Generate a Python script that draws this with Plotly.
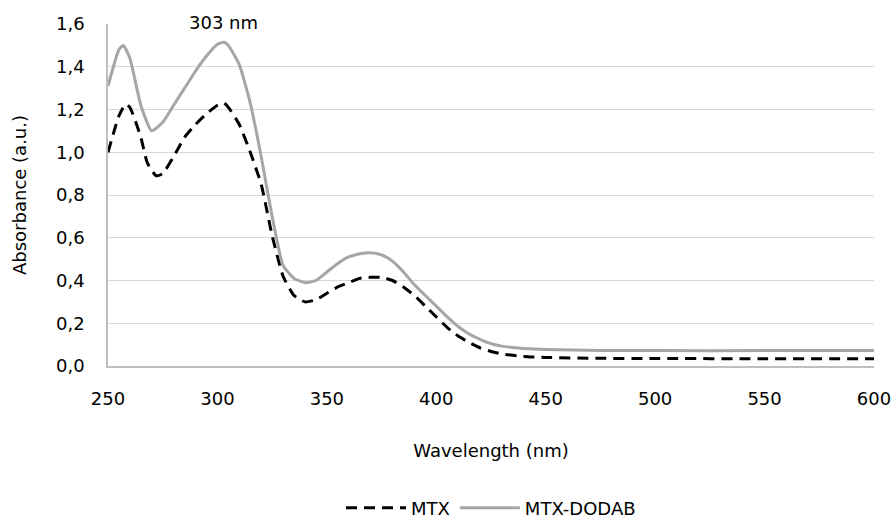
import plotly.graph_objects as go

wavelength_dodab = [250, 255, 257, 260, 265, 270, 275, 280, 285, 290, 295, 300, 303, 305, 310, 315, 320, 325, 330,
                    335, 340, 345, 350, 355, 360, 365, 370, 375, 380, 385, 390, 395, 400, 405, 410, 415, 420, 425,
                    430, 440, 450, 475, 500, 550, 600]
abs_dodab = [1.31, 1.48, 1.50, 1.44, 1.22, 1.10, 1.14, 1.22, 1.30, 1.38, 1.45, 1.505, 1.515, 1.50, 1.41, 1.23,
             0.98, 0.70, 0.47, 0.41, 0.39, 0.40, 0.44, 0.48, 0.51, 0.525, 0.53, 0.52, 0.49, 0.44, 0.38, 0.33, 0.28,
             0.23, 0.185, 0.15, 0.125, 0.105, 0.093, 0.082, 0.077, 0.073, 0.072, 0.072, 0.073]

wavelength_mtx = [250, 255, 258, 260, 265, 268, 272, 275, 280, 285, 290, 295, 300, 303, 305, 310, 315, 320, 325, 330,
                  335, 340, 345, 350, 355, 360, 365, 370, 375, 380, 385, 390, 395, 400, 405, 410, 415, 420, 425, 430,
                  440, 450, 475, 500, 550, 600]
abs_mtx = [1.00, 1.17, 1.225, 1.21, 1.07, 0.95, 0.89, 0.90, 0.98, 1.07, 1.13, 1.18, 1.22, 1.23, 1.21, 1.13, 1.00, 0.85,
           0.61, 0.42, 0.33, 0.30, 0.31, 0.34, 0.37, 0.39, 0.41, 0.415, 0.415, 0.40, 0.37, 0.33, 0.28, 0.23, 0.18,
           0.14, 0.11, 0.085, 0.068, 0.056, 0.045, 0.04, 0.036, 0.035, 0.034, 0.034]

x_ticks = [250, 300, 350, 400, 450, 500, 550, 600]
y_ticks = [0.0, 0.2, 0.4, 0.6, 0.8, 1.0, 1.2, 1.4, 1.6]
peak_label = "303 nm"
peak_x = 303

FONT = "DejaVu Sans"
FS = 18

fig = go.Figure()
fig.add_trace(go.Scatter(x=wavelength_mtx, y=abs_mtx, name="MTX", mode="lines",
                         line=dict(color="#000000", width=3, dash="11px,7px", shape="spline", smoothing=0.5)))
fig.add_trace(go.Scatter(x=wavelength_dodab, y=abs_dodab, name="MTX-DODAB", mode="lines",
                         line=dict(color="#a6a6a6", width=3, shape="spline", smoothing=0.5)))

fig.add_annotation(x=peak_x, y=1.6, text=peak_label, showarrow=False, xanchor="center", yanchor="middle",
                   yshift=2, font=dict(family=FONT, size=FS, color="#000000"))

fig.update_layout(
    width=895, height=518,
    margin=dict(l=108, r=21, t=24, b=152, autoexpand=False),
    paper_bgcolor="white", plot_bgcolor="white",
    separators=",.",
    font=dict(family=FONT, size=FS, color="#000000"),
    showlegend=True,
    legend=dict(orientation="h", x=0.5, xanchor="center", y=-0.415, yanchor="middle",
                font=dict(family=FONT, size=FS, color="#000000"), itemwidth=60, traceorder="normal"),
    xaxis=dict(range=[250, 600], tickvals=x_ticks, showgrid=False, zeroline=False, automargin=False,
               showline=True, linecolor="#bfbfbf", linewidth=1.5, ticks="",
               tickfont=dict(family=FONT, size=FS, color="#000000"), ticklabelstandoff=16,
               title=dict(text="Wavelength (nm)", standoff=36, font=dict(family=FONT, size=FS, color="#000000"))),
    yaxis=dict(range=[0, 1.6], tickvals=y_ticks, tickformat=".1f", showgrid=True, gridcolor="#d9d9d9",
               gridwidth=1.2, zeroline=False, showline=True, linecolor="#bfbfbf", linewidth=1.5, ticks="",
               automargin=False,
               tickfont=dict(family=FONT, size=FS, color="#000000"), ticklabelstandoff=18,
               title=dict(text="Absorbance (a.u.)", standoff=25, font=dict(family=FONT, size=FS, color="#000000"))),
)

fig.write_html("out.html")
